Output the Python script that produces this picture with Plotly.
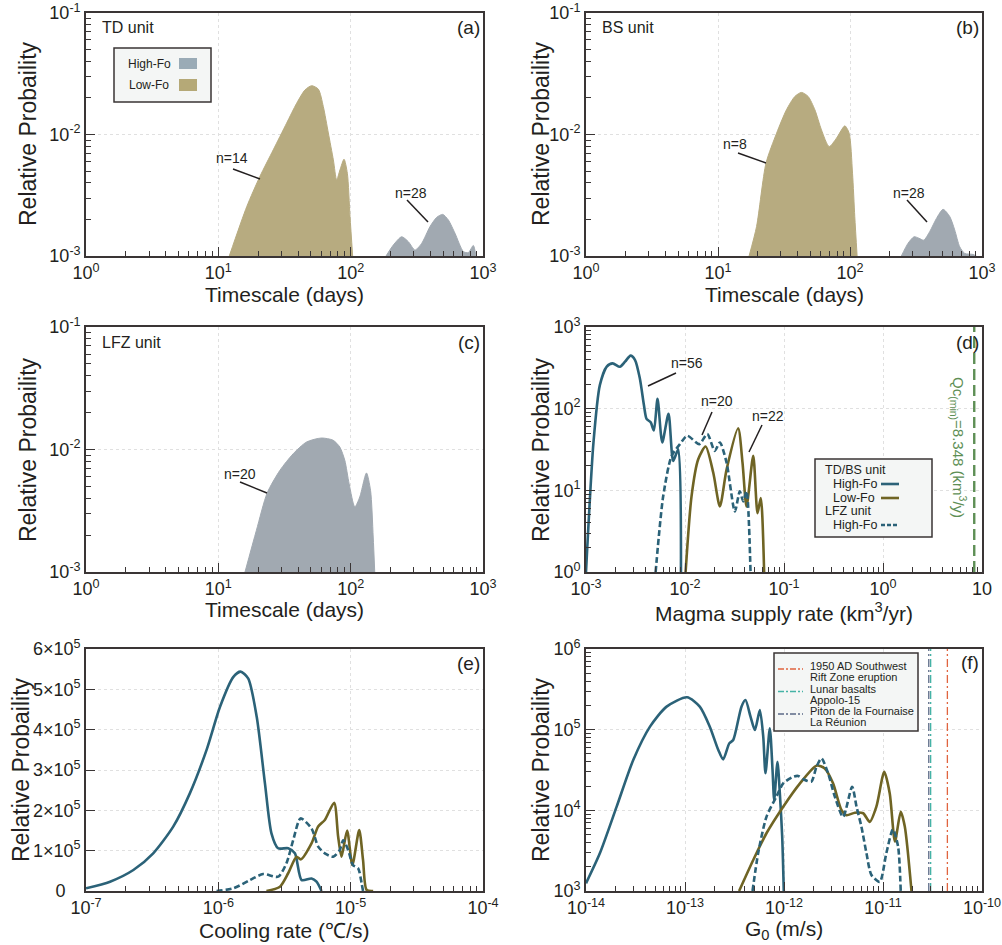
import plotly.graph_objects as go

# ---------------- data ----------------
# (a) TD unit, timescale (days)
A_LOW_X = [12.1, 16.4, 20.6, 26.0, 32.8, 39.1, 45.2, 50.7, 57.0, 62.1, 67.8, 74.0, 78.4, 83.0, 89.1, 94.4, 98.9, 103.5]
A_LOW_Y = [1e-3, 2.55e-3, 4.51e-3, 7.48e-3, 0.0124, 0.0181, 0.0233, 0.0252, 0.0236, 0.0170, 0.0103, 6.18e-3,
           4.23e-3, 5.11e-3, 6.26e-3, 4.80e-3, 2.11e-3, 1e-3]
A_HIGH_X = [185, 210, 243, 273, 306, 344, 397, 447, 496, 547, 614, 710, 774, 845, 885]
A_HIGH_Y = [1e-3, 1.23e-3, 1.44e-3, 1.31e-3, 1.12e-3, 1.27e-3, 1.74e-3, 2.08e-3, 2.20e-3, 1.98e-3, 1.54e-3,
            1.09e-3, 1.065e-3, 1.22e-3, 1e-3]

# (b) BS unit
B_LOW_X = [17.2, 19.6, 23.1, 27.8, 33.0, 38.2, 42.9, 48.2, 54.2, 60.8, 69.5, 79.0, 91.4, 98.5, 104.5, 108.7, 113.2]
B_LOW_Y = [1e-3, 1.75e-3, 5.81e-3, 0.01026, 0.01596, 0.02056, 0.02219, 0.02056, 0.01596, 0.01091, 7.96e-3,
           9.33e-3, 0.01178, 0.01026, 4.80e-3, 2.11e-3, 1e-3]
B_HIGH_X = [245, 275, 306, 333, 362, 402, 452, 507, 570, 621, 678, 740, 855, 906]
B_HIGH_Y = [1e-3, 1.27e-3, 1.44e-3, 1.40e-3, 1.35e-3, 1.59e-3, 2.04e-3, 2.42e-3, 2.11e-3, 1.64e-3, 1.19e-3,
            1.05e-3, 1.03e-3, 1e-3]

# (c) LFZ unit
C_HIGH_X = [15.9, 19.4, 23.4, 29.2, 36.8, 46.4, 60.2, 73.8, 82.8, 90.3, 97.3, 107.5, 117.2, 131.6, 141.3, 148, 152]
C_HIGH_Y = [1e-3, 2.19e-3, 4.42e-3, 6.76e-3, 9.24e-3, 0.01151, 0.01241, 0.01189, 0.01047, 8.16e-3, 5.27e-3,
            3.40e-3, 4.10e-3, 6.43e-3, 4.64e-3, 1.93e-3, 1e-3]

# (d) magma supply rate (km3/yr)
D_TDBS_HIGH_X = [0.001, 0.00119, 0.00138, 0.00162, 0.00186, 0.0022, 0.00248, 0.00282, 0.00313, 0.0035, 0.00385,
                 0.00409, 0.0045, 0.00485, 0.00528, 0.00589, 0.00682, 0.0076, 0.00855, 0.0091]
D_TDBS_HIGH_Y = [1, 38.6, 194, 328, 359, 326, 376, 446, 394, 234, 110, 75, 68, 54, 132, 38.6, 86.4, 22.9, 31.9, 1]
D_TDBS_LOW_X = [0.01014, 0.01164, 0.0136, 0.01615, 0.0193, 0.0225, 0.0263, 0.0344, 0.0381, 0.0418, 0.0489,
                0.054, 0.0583, 0.063]
D_TDBS_LOW_Y = [1, 8.45, 24, 34.4, 16.4, 6.36, 18, 57.5, 21.8, 6.36, 26.4, 5.26, 8.06, 1]
D_LFZ_HIGH_X = [0.00505, 0.00602, 0.00732, 0.0089, 0.01054, 0.0139, 0.0168, 0.020, 0.0225, 0.0263, 0.0319,
                0.0358, 0.0387, 0.0418, 0.0459]
D_LFZ_HIGH_Y = [1, 8.45, 26.4, 36.8, 46.6, 36.8, 48.9, 30.4, 38.6, 21.8, 5.52, 9.75, 7.33, 9.75, 1]
QC_MIN = 8.348

# (e) cooling rate (C/s)
E_TDBS_HIGH_X = [1e-7, 1.52e-7, 2.28e-7, 3.22e-7, 4.56e-7, 6.09e-7, 8.15e-7, 1.03e-6, 1.30e-6, 1.47e-6, 1.68e-6,
                 1.95e-6, 2.25e-6, 2.52e-6, 2.83e-6, 3.37e-6, 3.79e-6, 4.26e-6, 5.06e-6, 5.52e-6, 6.02e-6]
E_TDBS_HIGH_Y = [0.066e5, 0.231e5, 0.52e5, 0.934e5, 1.595e5, 2.42e5, 3.5e5, 4.57e5, 5.31e5, 5.44e5, 5.27e5,
                 4.32e5, 2.67e5, 1.43e5, 1.06e5, 1.06e5, 0.934e5, 0.27e5, 0.31e5, 0.23e5, 0]
E_TDBS_LOW_X = [2.31e-6, 2.92e-6, 3.37e-6, 3.90e-6, 4.20e-6, 5.06e-6, 5.68e-6, 6.38e-6, 7.5e-6, 8.04e-6,
                8.53e-6, 9.4e-6, 1.03e-5, 1.16e-5, 1.24e-5, 1.32e-5, 1.48e-5]
E_TDBS_LOW_Y = [0, 0.107e5, 0.44e5, 0.85e5, 0.785e5, 1.18e5, 1.6e5, 1.76e5, 2.19e5, 1.35e5, 0.85e5, 1.5e5,
                0.645e5, 1.51e5, 0.77e5, 0.025e5, 0]
E_LFZ_HIGH_X = [9.7e-7, 1.30e-6, 1.73e-6, 2.18e-6, 2.83e-6, 3.27e-6, 3.68e-6, 4.18e-6, 5.06e-6, 5.68e-6, 6.38e-6,
                7.38e-6, 8.28e-6, 8.78e-6, 9.57e-6, 1.04e-5, 1.14e-5, 1.21e-5, 1.24e-5]
E_LFZ_HIGH_Y = [0, 0.066e5, 0.27e5, 0.42e5, 0.355e5, 0.686e5, 1.26e5, 1.80e5, 1.55e5, 1.10e5, 0.934e5, 0.85e5,
                1.02e5, 1.26e5, 1.02e5, 0.645e5, 0.56e5, 0.19e5, 0]

# (f) growth rate G0 (m/s)
F_TDBS_HIGH_X = [1e-14, 1.38e-14, 2.04e-14, 3.0e-14, 4.43e-14, 6.52e-14, 1.05e-13, 1.41e-13, 1.78e-13, 2.17e-13,
                 2.43e-13, 2.80e-13, 3.07e-13, 3.72e-13, 4.08e-13, 4.59e-13, 5.08e-13, 5.70e-13, 6.17e-13, 6.50e-13,
                 7.19e-13, 7.66e-13, 7.96e-13, 8.59e-13, 9.08e-13, 9.59e-13, 9.95e-13]
F_TDBS_HIGH_Y = [1245, 2930, 1.11e4, 4.2e4, 1.09e5, 1.93e5, 2.52e5, 1.93e5, 1.09e5, 5.6e4, 4.28e4, 6.76e4, 7.45e4,
                 1.93e5, 2.33e5, 1.45e5, 9.9e4, 1.75e5, 8.2e4, 2.88e4, 1.04e5, 3.16e4, 1.34e4, 4.0e4, 1.62e4, 4.7e3,
                 1000]
F_TDBS_LOW_X = [3.52e-13, 4.89e-13, 6.65e-13, 9.82e-13, 1.45e-12, 2.13e-12, 2.58e-12, 3.13e-12, 3.80e-12,
                4.28e-12, 5.19e-12, 6.30e-12, 7.35e-12, 8.57e-12, 1.03e-11, 1.17e-11, 1.32e-11, 1.51e-11, 1.66e-11,
                1.94e-11]
F_TDBS_LOW_Y = [1000, 2420, 5.2e3, 1.11e4, 2.16e4, 3.58e4, 3.31e4, 2.16e4, 1.01e4, 8.7e3, 9.35e3, 9.2e3, 7.2e3,
                1.11e4, 3.0e4, 1.62e4, 4.1e3, 9.6e3, 6.3e3, 1000]
F_LFZ_HIGH_X = [4.81e-13, 5.48e-13, 6.65e-13, 8.39e-13, 9.82e-13, 1.24e-12, 1.39e-12, 1.62e-12, 1.89e-12,
                2.13e-12, 2.39e-12, 2.79e-12, 3.26e-12, 3.95e-12, 4.88e-12, 5.40e-12, 6.05e-12, 6.81e-12,
                7.64e-12, 9.27e-12, 1.08e-11, 1.26e-11, 1.42e-11, 1.51e-11]
F_LFZ_HIGH_Y = [1000, 2930, 8.3e3, 1.48e4, 2.16e4, 2.61e4, 2.67e4, 2.38e4, 2.27e4, 3.47e4, 4.41e4, 2.88e4, 1.48e4,
                8.3e3, 1.96e4, 1.11e4, 6.3e3, 2930, 1580, 1300, 2930, 5.8e3, 3.55e3, 1000]
G_REF_NAMES = [["1950 AD Southwest", "Rift Zone eruption"], ["Lunar basalts", "Appolo-15"],
               ["Piton de la Fournaise", "La Réunion"]]
G_REF_VALUES = [4.47e-11, 3.03e-11, 2.90e-11]

# ---------------- styling ----------------
W, H = 1002, 945
FONT = "Liberation Sans, Arial, sans-serif"
DARK = "#231f20"
AXC = "#3a3535"
TEAL = "#2b6278"
OLIVE = "#6f6424"
FILL_LOW = "#b7ab80"
FILL_HIGH = "#a1a9b1"
GRID = "#e0e0e0"
G_REF_COLORS = ["#e0643f", "#45b3a6", "#5b6a86"]
TICKFONT = dict(size=18, color=DARK, family=FONT)


def px(x):
    return x / W


def py(y):
    return 1 - y / H


def dec_ticks(lo, hi):
    major = [10.0 ** e for e in range(lo, hi + 1)]
    minor = [m * 10.0 ** e for e in range(lo, hi) for m in range(2, 10)]
    return major, minor


COMMON = dict(ticks="inside", ticklen=9, tickwidth=1.3, tickcolor=AXC,
              showline=True, linecolor=AXC, linewidth=1.6, mirror=True,
              showgrid=True, gridcolor=GRID, griddash="dot", gridwidth=1,
              zeroline=False, tickfont=TICKFONT, automargin=False)


def log_axis(lo, hi, domain, anchor, labels=None):
    major, minor = dec_ticks(lo, hi)
    if labels is None:
        labels = [f"10<sup>{e}</sup>" for e in range(lo, hi + 1)]
    return dict(type="log", range=[lo, hi], domain=domain, anchor=anchor,
                tickmode="array", tickvals=major, ticktext=labels,
                minor=dict(tickmode="array", tickvals=minor, ticks="inside", ticklen=5,
                           tickwidth=1.1, tickcolor=AXC, showgrid=False),
                **COMMON)


def lin_axis(rng, domain, anchor, vals, labels):
    return dict(type="linear", range=rng, domain=domain, anchor=anchor,
                tickmode="array", tickvals=vals, ticktext=labels, **COMMON)


XL, XR = [px(86), px(483)], [px(586), px(982)]
Y1 = [py(256), py(13)]
Y2 = [py(572), py(327)]
Y3 = [py(891), py(649)]

fig = go.Figure()


def area(x, y, fillc, ax):
    fig.add_trace(go.Scatter(x=x, y=y, mode="lines", fill="toself", fillcolor=fillc,
                             line=dict(color=fillc, width=1, shape="spline", smoothing=0.7),
                             xaxis=ax[0], yaxis=ax[1], showlegend=False, hoverinfo="x+y"))


def curve(x, y, color, ax, dash="solid"):
    fig.add_trace(go.Scatter(x=x, y=y, mode="lines",
                             line=dict(color=color, width=2.6, dash=dash, shape="spline", smoothing=0.7),
                             xaxis=ax[0], yaxis=ax[1], showlegend=False, hoverinfo="x+y"))


area(A_LOW_X, A_LOW_Y, FILL_LOW, ("x", "y"))
area(A_HIGH_X, A_HIGH_Y, FILL_HIGH, ("x", "y"))
area(B_LOW_X, B_LOW_Y, FILL_LOW, ("x2", "y2"))
area(B_HIGH_X, B_HIGH_Y, FILL_HIGH, ("x2", "y2"))
area(C_HIGH_X, C_HIGH_Y, FILL_HIGH, ("x3", "y3"))

curve(D_TDBS_HIGH_X, D_TDBS_HIGH_Y, TEAL, ("x4", "y4"))
curve(D_TDBS_LOW_X, D_TDBS_LOW_Y, OLIVE, ("x4", "y4"))
curve(D_LFZ_HIGH_X, D_LFZ_HIGH_Y, TEAL, ("x4", "y4"), dash="6px,3px")
fig.add_trace(go.Scatter(x=[QC_MIN, QC_MIN], y=[1, 1000], mode="lines",
                         line=dict(color="#5e8f55", width=2.4, dash="11px,5px"),
                         xaxis="x4", yaxis="y4", showlegend=False))

curve(E_TDBS_HIGH_X, E_TDBS_HIGH_Y, TEAL, ("x5", "y5"))
curve(E_TDBS_LOW_X, E_TDBS_LOW_Y, OLIVE, ("x5", "y5"))
curve(E_LFZ_HIGH_X, E_LFZ_HIGH_Y, TEAL, ("x5", "y5"), dash="6px,3px")

curve(F_TDBS_HIGH_X, F_TDBS_HIGH_Y, TEAL, ("x6", "y6"))
curve(F_TDBS_LOW_X, F_TDBS_LOW_Y, OLIVE, ("x6", "y6"))
curve(F_LFZ_HIGH_X, F_LFZ_HIGH_Y, TEAL, ("x6", "y6"), dash="6px,3px")
for gv, gc in zip(G_REF_VALUES, G_REF_COLORS):
    fig.add_trace(go.Scatter(x=[gv, gv], y=[1e3, 1e6], mode="lines",
                             line=dict(color=gc, width=1.3, dash="8px,3px,2px,3px"),
                             xaxis="x6", yaxis="y6", showlegend=False))

e_labels = ["0&nbsp;&nbsp;&nbsp;"] + [f"{k}×10<sup>5</sup>" for k in range(1, 7)]
fig.update_layout(
    width=W, height=H, autosize=False,
    margin=dict(l=0, r=0, t=0, b=0, autoexpand=False),
    paper_bgcolor="white", plot_bgcolor="white",
    font=dict(family=FONT, color=DARK),
    xaxis=log_axis(0, 3, XL, "y"),
    yaxis=log_axis(-3, -1, Y1, "x"),
    xaxis2=log_axis(0, 3, XR, "y2"),
    yaxis2=log_axis(-3, -1, Y1, "x2"),
    xaxis3=log_axis(0, 3, XL, "y3"),
    yaxis3=log_axis(-3, -1, Y2, "x3"),
    xaxis4=log_axis(-3, 1, XR, "y4", labels=["10<sup>-3</sup>", "10<sup>-2</sup>", "10<sup>-1</sup>",
                                               "10<sup>0</sup>", "10"]),
    yaxis4=log_axis(0, 3, Y2, "x4"),
    xaxis5=log_axis(-7, -4, XL, "y5"),
    yaxis5=lin_axis([0, 6e5], Y3, "x5", [k * 1e5 for k in range(7)], e_labels),
    xaxis6=log_axis(-14, -10, XR, "y6"),
    yaxis6=log_axis(3, 6, Y3, "x6"),
)

ann = []
shapes = []


def text(x, y, s, size=15, color=DARK, xanchor="center", angle=0):
    ann.append(dict(x=px(x), y=py(y), xref="paper", yref="paper", text=s, showarrow=False,
                    font=dict(size=size, color=color, family=FONT), xanchor=xanchor,
                    yanchor="middle", textangle=angle))


def seg(x0, y0, x1, y1, color=DARK, width=1.5, dash="solid"):
    shapes.append(dict(type="line", xref="paper", yref="paper", x0=px(x0), y0=py(y0), x1=px(x1),
                       y1=py(y1), line=dict(color=color, width=width, dash=dash)))


def box(x0, y0, x1, y1):
    shapes.append(dict(type="rect", xref="paper", yref="paper", x0=px(x0), y0=py(y0), x1=px(x1),
                       y1=py(y1), fillcolor="#f4f6f5", line=dict(color=AXC, width=1.5)))


# axis titles
YT = "Relative Probaility"
for (xx, yy) in [(28, 134), (541, 134), (28, 450), (541, 450), (21, 770), (541, 770)]:
    text(xx, yy, YT, size=23, angle=-90)
text(284, 294, "Timescale (days)", size=21)
text(784, 294, "Timescale (days)", size=21)
text(284, 609, "Timescale (days)", size=21)
text(784, 612, "Magma supply rate (km<sup>3</sup>/yr)", size=21)
text(284, 930, "Cooling rate (℃/s)", size=21)
text(784, 930, "G<sub>0</sub> (m/s)", size=21)

# panel labels
for (xx, yy, s) in [(483, 27, "(a)"), (982, 27, "(b)"), (483, 343, "(c)"), (982, 343, "(d)"),
                    (483, 663, "(e)"), (982, 662, "(f)")]:
    text(xx - 1, yy, s, size=19, xanchor="right")
text(100, 27, "TD unit", size=16, xanchor="left")
text(600, 27, "BS unit", size=16, xanchor="left")
text(100, 343, "LFZ unit", size=16, xanchor="left")

# n= labels with leader lines
text(232, 158, "n=14", size=14)
seg(233, 169, 260, 179)
text(411, 193, "n=28", size=14)
seg(407, 200, 428, 222)
text(735, 144, "n=8", size=14)
seg(738, 153, 766, 163)
text(909, 193, "n=28", size=14)
seg(907, 200, 927, 222)
text(240, 474, "n=20", size=14)
seg(240, 482, 267, 493)
text(687, 363, "n=56", size=14)
seg(648, 386, 676, 373)
text(717, 401, "n=20", size=14)
seg(702, 435, 712, 412)
text(768, 416, "n=22", size=14)
seg(749, 452, 762, 425)

# Qc label
text(959, 447, "Qc<sub>(min)</sub>=8.348 (km<sup>3</sup>/y)", size=15, color="#5e8f55", angle=90)

# legend (a)
box(114, 48, 211, 102)
text(149, 64, "High-Fo", size=12)
text(149, 85, "Low-Fo", size=12)
shapes.append(dict(type="rect", xref="paper", yref="paper", x0=px(179), x1=px(197), y0=py(69), y1=py(58),
                   fillcolor="#9aabb6", line=dict(width=0)))
shapes.append(dict(type="rect", xref="paper", yref="paper", x0=px(179), x1=px(197), y0=py(91), y1=py(79),
                   fillcolor="#b5a977", line=dict(width=0)))

# legend (d)
box(815, 459, 932, 537)
text(823, 470, "TD/BS unit", size=12.5, xanchor="left")
text(831, 484, "High-Fo", size=12.5, xanchor="left")
seg(881, 484, 899, 484, color=TEAL, width=2.6)
text(831, 498, "Low-Fo", size=12.5, xanchor="left")
seg(881, 498, 899, 498, color=OLIVE, width=2.6)
text(823, 511, "LFZ unit", size=12.5, xanchor="left")
text(831, 525, "High-Fo", size=12.5, xanchor="left")
seg(881, 525, 899, 525, color=TEAL, width=2.6, dash="4px,2px")

# legend (f)
box(774, 653, 918, 731)
for i, (lines, col) in enumerate(zip(G_REF_NAMES, G_REF_COLORS)):
    y0 = 666 + i * 22.5
    text(808, y0, lines[0], size=11, xanchor="left")
    text(808, y0 + 11, lines[1], size=11, xanchor="left")
    seg(778, y0 + 3, 803, y0 + 3, color=col, width=1.6, dash="6px,2px,2px,2px")

fig.update_layout(annotations=ann, shapes=shapes)
fig.write_html("out.html")
